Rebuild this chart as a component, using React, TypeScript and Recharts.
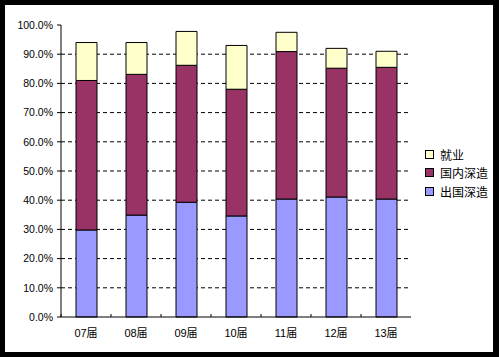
import React from "react";
import {
  BarChart,
  Bar,
  XAxis,
  YAxis,
  CartesianGrid,
} from "recharts";

// graduating classes
const classes = ["07届", "08届", "09届", "10届", "11届", "12届", "13届"];

// share of graduates (%)
const abroad = [29.8, 34.9, 39.3, 34.6, 40.4, 41.1, 40.4];
const domestic = [51.2, 48.2, 46.9, 43.4, 50.5, 44.1, 45.1];
const employed = [13.0, 10.9, 11.6, 15.0, 6.6, 6.8, 5.5];

const yTicks = [0, 10, 20, 30, 40, 50, 60, 70, 80, 90, 100];

const FONT = '"Liberation Sans", Arial, "Noto Sans CJK SC", sans-serif';

const series = [
  { key: "abroad", name: "出国深造", color: "#9999FF" },
  { key: "domestic", name: "国内深造", color: "#993366" },
  { key: "employed", name: "就业", color: "#FFFFCC" },
];

const data = classes.map((name, i) => ({
  name,
  abroad: abroad[i],
  domestic: domestic[i],
  employed: employed[i],
}));

// category label plus a short inward tick at the left edge of each category
const XTick = (props: any) => {
  const { x, y, payload } = props;
  return (
    <g>
      <line x1={x - 25} x2={x - 25} y1={y} y2={y - 3} stroke="#000" />
      <text
        x={x}
        y={y + 16}
        textAnchor="middle"
        dominantBaseline="central"
        fontSize={11}
        fontFamily={FONT}
        fill="#000"
      >
        {payload.value}
      </text>
    </g>
  );
};

const LegendBox = () => (
  <div style={{ fontFamily: FONT, fontSize: 12, color: "#000" }}>
    {[...series].reverse().map((s) => (
      <div
        key={s.key}
        style={{ display: "flex", alignItems: "center", height: 18.5 }}
      >
        <span
          style={{
            display: "inline-block",
            width: 7,
            height: 7,
            background: s.color,
            border: "1px solid #000",
            marginRight: 6,
          }}
        />
        {s.name}
      </div>
    ))}
  </div>
);

export default function App() {
  return (
    <div
      style={{
        position: "fixed",
        left: 0,
        top: 0,
        width: 499,
        height: 357,
        background: "#000",
      }}
    >
      <div
        style={{
          position: "absolute",
          left: 5,
          top: 5,
          width: 488,
          height: 347,
          background: "#fff",
        }}
      >
        <BarChart
          width={488}
          height={347}
          data={data}
          margin={{ top: 20, right: 82, bottom: 0, left: 0 }}
          barSize={21}
        >
          <CartesianGrid
            vertical={false}
            horizontalValues={[10, 20, 30, 40, 50, 60, 70, 80, 90]}
            stroke="#000"
            strokeDasharray="4 3"
          />
          <XAxis
            dataKey="name"
            height={35}
            axisLine={{ stroke: "#000" }}
            tickLine={false}
            tickSize={0}
            tickMargin={0}
            tick={<XTick />}
            interval={0}
          />
          <XAxis
            xAxisId="top"
            orientation="top"
            dataKey="name"
            height={0}
            axisLine={{ stroke: "#808080" }}
            tick={false}
            tickLine={false}
          />
          <YAxis
            width={56}
            domain={[0, 100]}
            ticks={yTicks}
            interval={0}
            axisLine={{ stroke: "#000" }}
            tickLine={{ stroke: "#000" }}
            tickSize={4}
            tickMargin={4}
            tickFormatter={(v: number) => `${v.toFixed(1)}%`}
            tick={{ fontSize: 10.5, fontFamily: FONT, fill: "#000" }}
          />
          <YAxis
            yAxisId="right"
            orientation="right"
            width={0}
            domain={[0, 100]}
            axisLine={{ stroke: "#808080" }}
            tick={false}
            tickLine={false}
          />
          {series.map((s) => (
            <Bar
              key={s.key}
              dataKey={s.key}
              name={s.name}
              stackId="a"
              fill={s.color}
              stroke="#000"
              strokeWidth={1}
              isAnimationActive={false}
            />
          ))}
        </BarChart>
        <div style={{ position: "absolute", left: 420, top: 140 }}>
          <LegendBox />
        </div>
      </div>
    </div>
  );
}
